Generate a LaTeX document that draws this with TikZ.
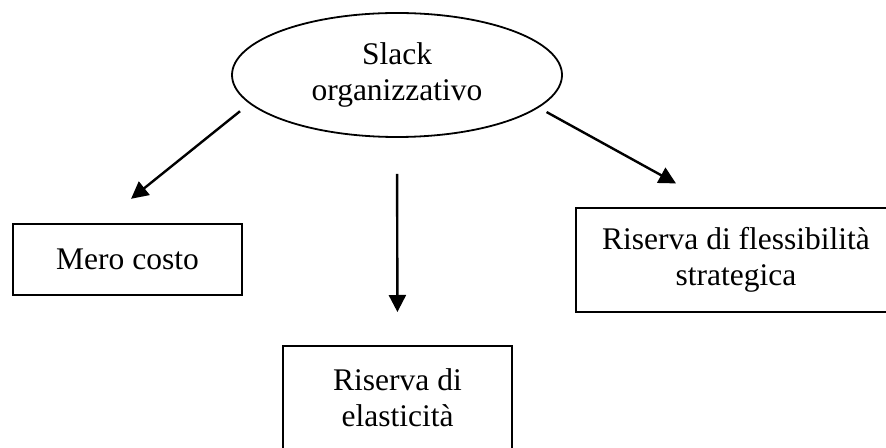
\documentclass[tikz,border=0pt]{standalone}
\usepackage{fontspec}
\setmainfont{Liberation Serif}
\usetikzlibrary{shapes.geometric,arrows.meta}

\tikzset{
  oval/.style={ellipse, draw, line width=0.9pt, minimum width=165pt, minimum height=62pt, inner sep=0pt, align=center},
  box/.style={rectangle, draw, line width=1pt, inner sep=0pt, align=center},
  arr/.style={-{Triangle[length=8.5pt,width=8.5pt]}, line width=1.2pt}
}

\begin{document}
\begin{tikzpicture}[x=0.5pt,y=-0.5pt,font=\fontsize{15.75}{18}\selectfont]
\useasboundingbox (0,0) rectangle (886,448);
\node[oval] (slack) at (397,75) {Slack\\organizzativo};
\node[box, minimum width=114.5pt, minimum height=35.5pt] (mero) at (127.5,259.5) {Mero costo};
\node[box, minimum width=160pt, minimum height=52pt] (fless) at (736,260) {Riserva di flessibilit\`a\\strategica};
\node[box, minimum width=114.5pt, minimum height=52pt] (elast) at (397.5,398) {Riserva di\\elasticit\`a};
\path[arr]
(slack.191.5) edge [shorten <=6pt, shorten >=19.3pt] (mero.126)
(slack.south) edge [shorten <=18pt, shorten >=16.5pt] (elast.north)
(slack.347.5) edge [shorten <=4.5pt, shorten >=24.4pt] (fless.108.7)
;
\end{tikzpicture}
\end{document}
